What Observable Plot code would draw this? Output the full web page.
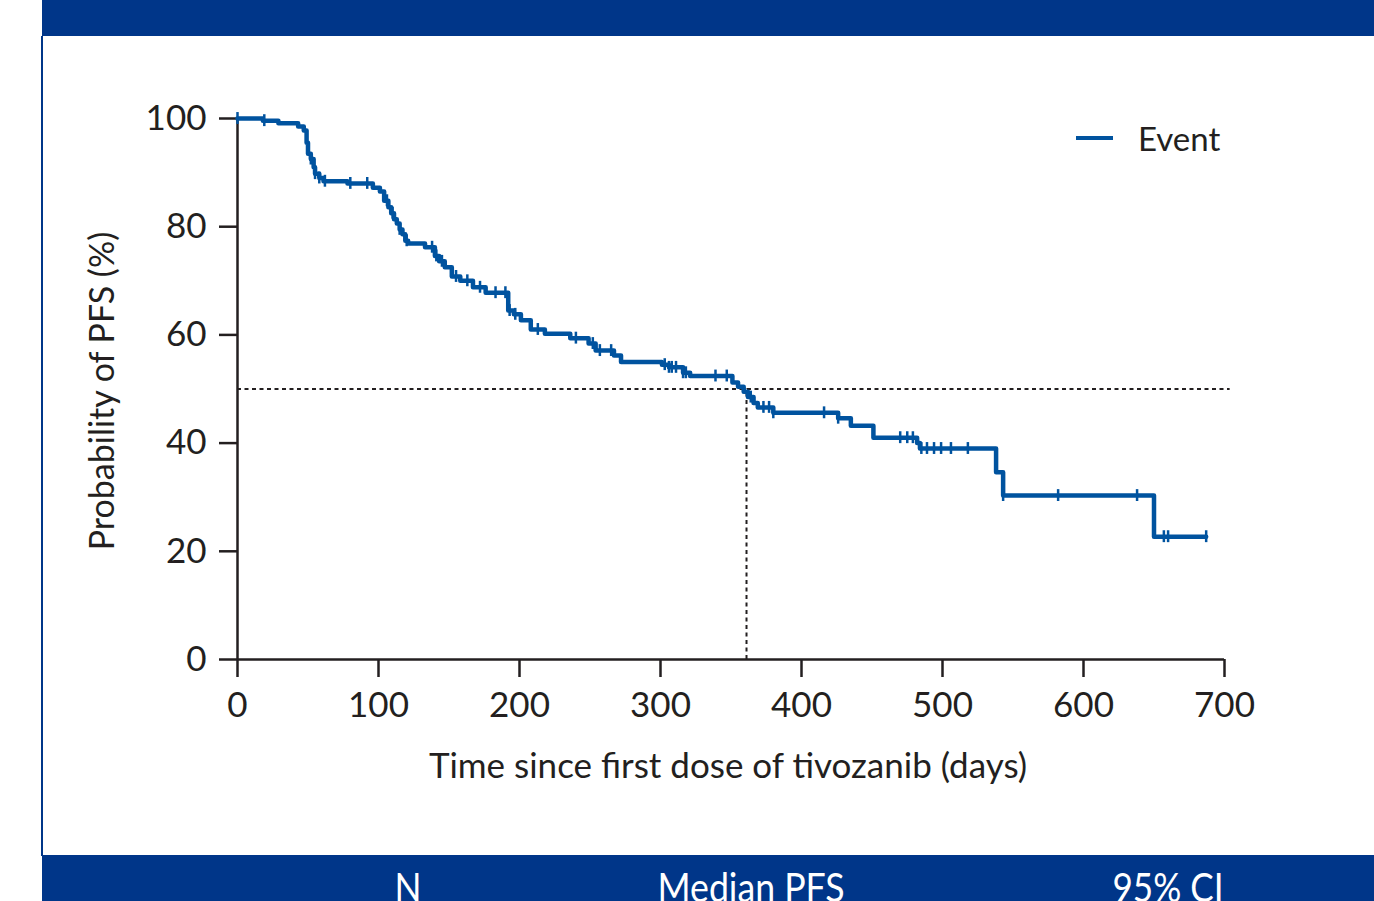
<!DOCTYPE html>
<html>
<head>
<meta charset="utf-8">
<script src="https://cdn.jsdelivr.net/npm/d3@7"></script>
<script src="https://cdn.jsdelivr.net/npm/@observablehq/plot@0.6"></script>
<style>
  html, body { margin: 0; padding: 0; background: #fff; }
  #wrap { position: relative; width: 1374px; height: 901px; overflow: hidden; font-family: Lato, "Open Sans", sans-serif; }
  #chart { position: absolute; left: 0; top: 0; }
  .band { position: absolute; background: #003689; }
  #legend { position: absolute; left: 1076px; top: 118px; height: 40px; display: flex; align-items: center; color: #231f20; font-size: 33px; }
  #legend .sw { width: 37px; height: 4px; background: #00539f; margin-right: 25px; }
  #bottomText { position: absolute; left: 0; top: 0; }
</style>
</head>
<body>
<div id="wrap">
  <div id="chart"></div>
  <div class="band" style="left:42px;top:0;width:1332px;height:36px;"></div>
  <div class="band" style="left:41px;top:36px;width:2px;height:820px;"></div>
  <div class="band" style="left:42px;top:855px;width:1332px;height:46px;"></div>
  <svg id="bottomText" width="1374" height="901" style="pointer-events:none">
    <g font-family="Lato, 'Open Sans', sans-serif" font-size="41" fill="#ffffff" text-anchor="middle">
      <text x="408" y="902" textLength="27" lengthAdjust="spacingAndGlyphs">N</text>
      <text x="751" y="902" textLength="187" lengthAdjust="spacingAndGlyphs">Median PFS</text>
      <text x="1168" y="902" textLength="111" lengthAdjust="spacingAndGlyphs">95% CI</text>
    </g>
  </svg>
  <div id="legend"><div class="sw"></div><span>Event</span></div>
</div>
<script>
// Kaplan–Meier step points: time (days) and PFS probability (%)
const stepDays = [0, 18, 29, 43, 47, 49, 50, 52, 54, 55, 58, 61, 78, 96, 101, 104, 107, 109, 111, 113, 115, 117, 119, 121, 133, 140, 143, 147, 152, 158, 167, 176, 192, 196, 201, 208, 218, 236, 249, 254, 267, 272, 301, 306, 316, 321, 351, 355, 359, 362, 366, 369, 380, 426, 435, 451, 482, 484, 538, 543, 650, 687];
const stepPFS  = [100, 99.6, 99.1, 98.5, 97.8, 95.5, 93.5, 92.5, 91.0, 89.8, 89.0, 88.4, 88.0, 87.2, 86.5, 84.8, 83.6, 82.5, 81.4, 80.6, 79.5, 78.6, 77.4, 76.9, 76.2, 74.6, 73.6, 72.5, 70.8, 70.0, 68.8, 67.8, 64.5, 63.8, 62.7, 61.0, 60.2, 59.4, 58.4, 57.1, 56.2, 55.0, 54.5, 54.0, 53.0, 52.4, 51.2, 50.4, 49.5, 48.5, 47.4, 46.6, 45.6, 44.6, 43.2, 41.0, 40.0, 39.0, 34.6, 30.3, 22.7, 22.7];

// Censored observations (days)
const censorDays = [0, 19, 52, 55, 58, 62, 80, 92, 106, 110, 115, 120, 138, 141, 145, 155, 163, 172, 183, 190, 193, 197, 213, 240, 252, 257, 265, 303, 306, 308, 311, 316, 318, 339, 347, 364, 373, 377, 380, 416, 426, 470, 475, 479, 485, 489, 494, 499, 506, 518, 543, 582, 638, 657, 660, 687];

const medianPFS = 361;
const xTicks = [0, 100, 200, 300, 400, 500, 600, 700];
const yTicks = [0, 20, 40, 60, 80, 100];

const steps = stepDays.map((t, i) => ({t, s: stepPFS[i]}));
const bis = d3.bisector(d => d.t).right;
const survAt = t => steps[Math.max(0, bis(steps, t) - 1)].s;
const censors = censorDays.map(t => ({t, s: survAt(t)}));

const ink = "#231f20";
const blue = "#00539f";

const plot = Plot.plot({
  width: 1374,
  height: 901,
  marginLeft: 237,
  marginRight: 150,
  marginTop: 118,
  marginBottom: 242,
  style: {fontFamily: "Lato, 'Open Sans', sans-serif", fontSize: "35px", color: ink, background: "transparent"},
  x: {domain: [0, 700]},
  y: {domain: [0, 100]},
  marks: [
    Plot.axisX({ticks: xTicks, tickSize: 18, tickPadding: 15, tickFormat: d => String(d), label: null, stroke: ink, strokeWidth: 2.5}),
    Plot.axisY({ticks: yTicks, tickSize: 18, tickPadding: 13, tickFormat: d => String(d), label: null, stroke: ink, strokeWidth: 2.5}),
    Plot.ruleY([0], {x1: 0, x2: 700, stroke: ink, strokeWidth: 2.5}),
    Plot.ruleX([0], {y1: 0, y2: 100, stroke: ink, strokeWidth: 2.5}),
    Plot.ruleY([50], {x1: 0, x2: 704, stroke: ink, strokeWidth: 2, strokeDasharray: "4,3.5"}),
    Plot.ruleX([medianPFS], {y1: 0, y2: 50, stroke: ink, strokeWidth: 2, strokeDasharray: "4,3.5"}),
    Plot.line(steps, {x: "t", y: "s", curve: "step-after", stroke: blue, strokeWidth: 4.5}),
    Plot.ruleX(censors, {x: "t", y1: d => d.s - 1.1, y2: d => d.s + 1.1, stroke: blue, strokeWidth: 2.5}),
    Plot.text(["Time since first dose of tivozanib (days)"], {frameAnchor: "bottom", lineAnchor: "middle", dx: -3, dy: 107, fontSize: 35, fill: ink}),
    Plot.text(["Probability of PFS (%)"], {frameAnchor: "left", textAnchor: "middle", rotate: -90, dx: -134, dy: 2, fontSize: 34, fill: ink})
  ]
});
document.getElementById("chart").appendChild(plot);
</script>
</body>
</html>
